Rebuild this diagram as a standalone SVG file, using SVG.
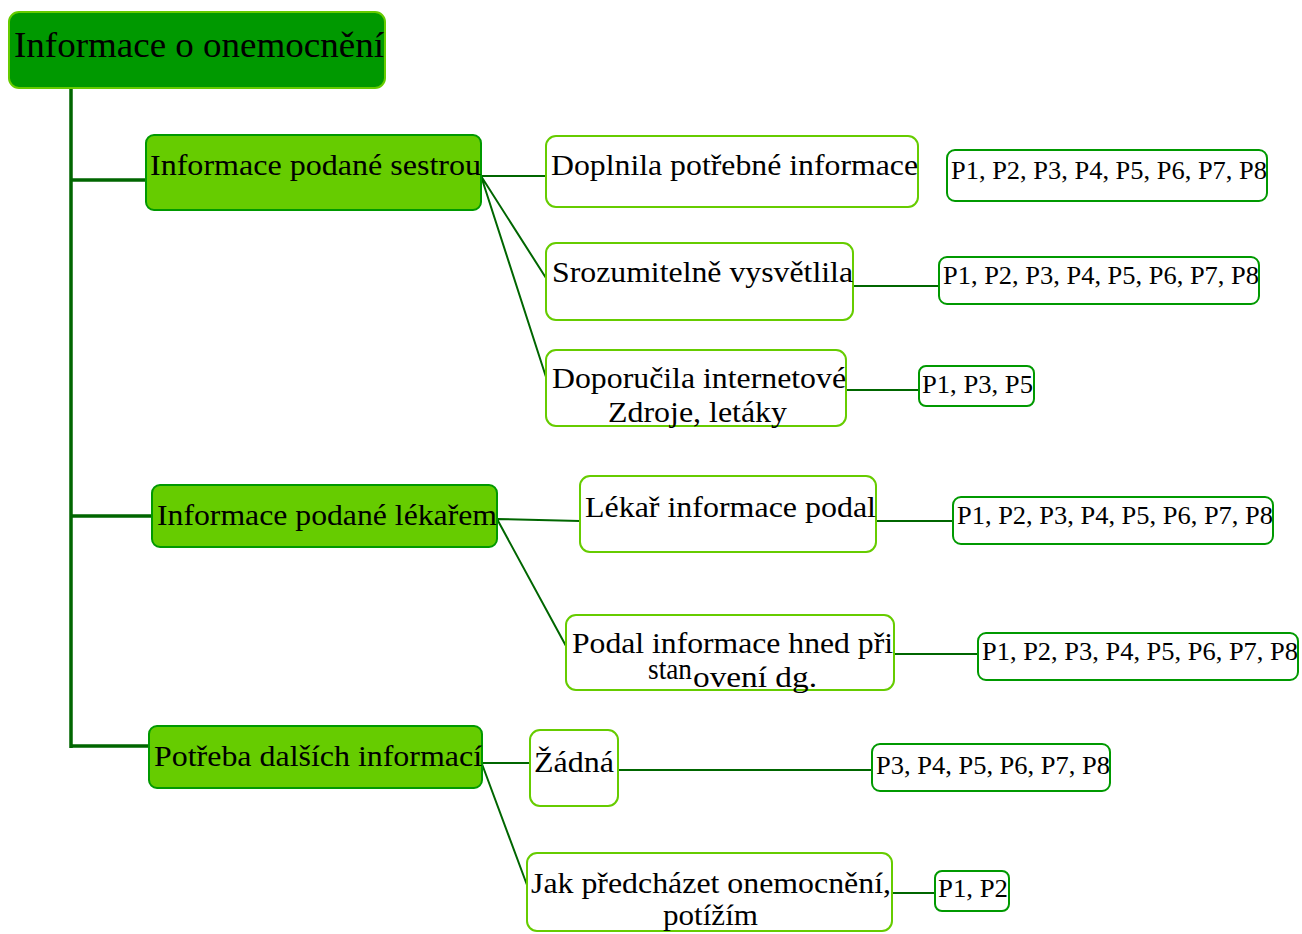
<svg xmlns="http://www.w3.org/2000/svg" width="1302" height="934" viewBox="0 0 1302 934" font-family="'Liberation Serif', 'Times New Roman', Times, serif">
<style>
text{fill:#000}
.root rect{fill:#009900;stroke:#66cc00;stroke-width:2}
.l1 rect{fill:#66cc00;stroke:#009900;stroke-width:2}
.l2 rect{fill:#fff;stroke:#66cc00;stroke-width:2}
.l3 rect{fill:#fff;stroke:#009900;stroke-width:2}
.root text{font-size:36px}
.l1 text,.l2 text{font-size:30px}
.l3 text{font-size:26px}
.trunk{stroke:#006600;stroke-width:3.5;fill:none}
.c{stroke:#006600;stroke-width:2;fill:none}
</style>
<rect width="1302" height="934" fill="#fff"/>
<g id="connectors">
<path class="trunk" d="M71 88V748M71 180H146M71 516H152M71 746H150"/>
<path class="c" d="M481 176H545M481 176L546 278M481 176L546 377"/>
<path class="c" d="M853 286H939M846 390H919"/>
<path class="c" d="M497 519L580 521M497 519L566 646"/>
<path class="c" d="M876 521H953M894 654H978"/>
<path class="c" d="M482 763H530M482 764L527 885"/>
<path class="c" d="M618 770H872M892 893H935"/>
</g>
<g id="root" class="root"><rect x="9" y="12" width="376" height="76" rx="10"/><text x="14" y="57" textLength="370" lengthAdjust="spacingAndGlyphs">Informace o onemocnění</text></g>
<g id="sestrou" class="l1"><rect x="146" y="135" width="335" height="75" rx="8"/><text x="150" y="175" textLength="331" lengthAdjust="spacingAndGlyphs">Informace podané sestrou</text></g>
<g id="lekarem" class="l1"><rect x="152" y="485" width="345" height="62" rx="8"/><text x="157" y="525" textLength="340" lengthAdjust="spacingAndGlyphs">Informace podané lékařem</text></g>
<g id="potreba" class="l1"><rect x="149" y="726" width="333" height="62" rx="8"/><text x="154" y="766" textLength="328" lengthAdjust="spacingAndGlyphs">Potřeba dalších informací</text></g>
<g id="doplnila" class="l2"><rect x="546" y="136" width="372" height="71" rx="10"/><text x="551" y="175" textLength="367" lengthAdjust="spacingAndGlyphs">Doplnila potřebné informace</text></g>
<g id="srozumitelne" class="l2"><rect x="546" y="243" width="307" height="77" rx="10"/><text x="552" y="282" textLength="301" lengthAdjust="spacingAndGlyphs">Srozumitelně vysvětlila</text></g>
<g id="doporucila" class="l2"><rect x="546" y="350" width="300" height="76" rx="10"/><text x="552" y="388" textLength="294" lengthAdjust="spacingAndGlyphs">Doporučila internetové</text><text x="608" y="422" textLength="179" lengthAdjust="spacingAndGlyphs">Zdroje, letáky</text></g>
<g id="lekar-podal" class="l2"><rect x="580" y="476" width="296" height="76" rx="10"/><text x="585" y="517" textLength="291" lengthAdjust="spacingAndGlyphs">Lékař informace podal</text></g>
<g id="podal-hned" class="l2"><rect x="566" y="615" width="328" height="75" rx="10"/><text x="572" y="653" textLength="321" lengthAdjust="spacingAndGlyphs">Podal informace hned při</text><text x="648" y="679" textLength="44" lengthAdjust="spacingAndGlyphs">stan</text><text x="693" y="687" textLength="124" lengthAdjust="spacingAndGlyphs">ovení dg.</text></g>
<g id="zadna" class="l2"><rect x="530" y="730" width="88" height="76" rx="10"/><text x="534" y="772" textLength="80" lengthAdjust="spacingAndGlyphs">Žádná</text></g>
<g id="jak" class="l2"><rect x="527" y="853" width="365" height="78" rx="10"/><text x="531" y="893" textLength="360" lengthAdjust="spacingAndGlyphs">Jak předcházet onemocnění,</text><text x="663" y="925" textLength="95" lengthAdjust="spacingAndGlyphs">potížím</text></g>
<g id="p-doplnila" class="l3"><rect x="947" y="150" width="320" height="51" rx="8"/><text x="951" y="179" textLength="316" lengthAdjust="spacingAndGlyphs">P1, P2, P3, P4, P5, P6, P7, P8</text></g>
<g id="p-srozumitelne" class="l3"><rect x="939" y="257" width="320" height="47" rx="8"/><text x="943" y="284" textLength="316" lengthAdjust="spacingAndGlyphs">P1, P2, P3, P4, P5, P6, P7, P8</text></g>
<g id="p-doporucila" class="l3"><rect x="919" y="366" width="115" height="40" rx="7"/><text x="922" y="393" textLength="111" lengthAdjust="spacingAndGlyphs">P1, P3, P5</text></g>
<g id="p-lekar" class="l3"><rect x="953" y="497" width="320" height="47" rx="8"/><text x="957" y="524" textLength="316" lengthAdjust="spacingAndGlyphs">P1, P2, P3, P4, P5, P6, P7, P8</text></g>
<g id="p-podal" class="l3"><rect x="978" y="633" width="320" height="47" rx="8"/><text x="982" y="660" textLength="316" lengthAdjust="spacingAndGlyphs">P1, P2, P3, P4, P5, P6, P7, P8</text></g>
<g id="p-zadna" class="l3"><rect x="872" y="744" width="238" height="47" rx="8"/><text x="876" y="774" textLength="234" lengthAdjust="spacingAndGlyphs">P3, P4, P5, P6, P7, P8</text></g>
<g id="p-jak" class="l3"><rect x="935" y="871" width="74" height="40" rx="7"/><text x="938" y="897" textLength="70" lengthAdjust="spacingAndGlyphs">P1, P2</text></g>
</svg>
